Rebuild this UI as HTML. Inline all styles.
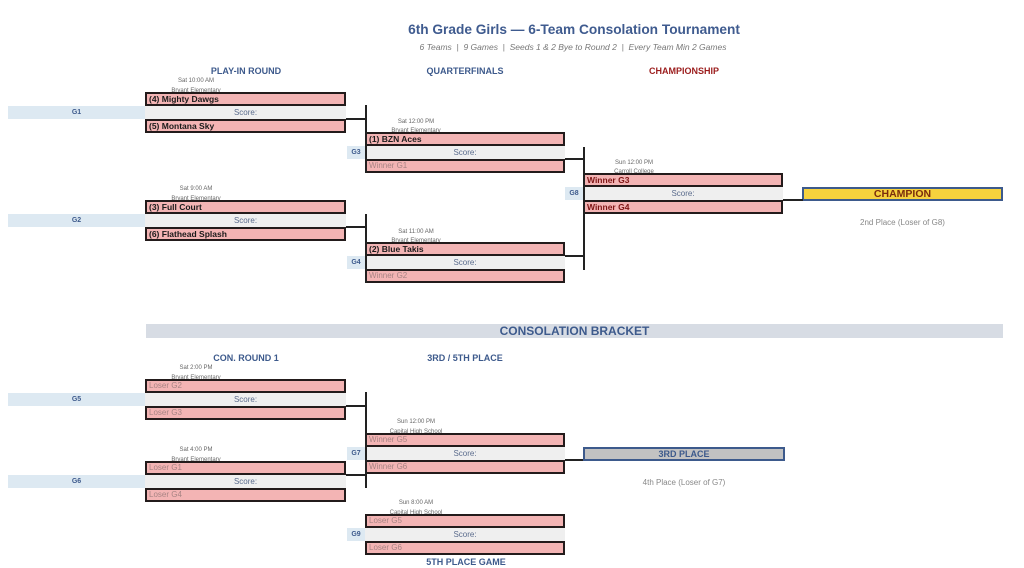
<!DOCTYPE html>
<html><head><meta charset="utf-8"><style>
*{margin:0;padding:0;box-sizing:border-box}
html,body{width:1024px;height:568px;background:#fff;overflow:hidden;position:relative;font-family:"Liberation Sans",Arial,sans-serif}
div{position:absolute}
.h{font-weight:bold;font-size:9px;color:#3d5a8c;text-align:center;width:200px;line-height:10px;white-space:nowrap}
.tb{height:14px;border:2px solid #231b1b;background:#f3b4b4;font-weight:bold;font-size:8.5px;line-height:10px;padding-left:2px;color:#1a1a1a;white-space:nowrap;overflow:hidden;z-index:2}
.ph{font-weight:normal;font-size:8px;color:#a88484}
.dr{color:#7e1414}
.sc{height:13px;background:#efefef;font-size:8px;color:#5a6b8c;text-align:center;line-height:13px;z-index:1}
.lb{height:13px;background:#dde9f2;font-size:7px;font-weight:bold;color:#3d5a8c;text-align:center;line-height:13px}
.sch{width:100px;text-align:center;font-size:6px;color:#666;line-height:8px;white-space:nowrap;z-index:0}
.ln{background:#222;z-index:3}
</style></head><body>

<!-- Title -->
<div style="left:0;width:1148px;top:21px;text-align:center;font-weight:bold;font-size:13.7px;color:#3f5b8f;line-height:18px;white-space:nowrap">6th Grade Girls — 6-Team Consolation Tournament</div>
<div style="left:0;width:1146px;top:42px;text-align:center;font-style:italic;font-size:8.5px;color:#777;line-height:10px;white-space:nowrap">6 Teams &nbsp;|&nbsp; 9 Games &nbsp;|&nbsp; Seeds 1 &amp; 2 Bye to Round 2 &nbsp;|&nbsp; Every Team Min 2 Games</div>

<!-- Round headers -->
<div class="h" style="left:146px;top:66px">PLAY-IN ROUND</div>
<div class="h" style="left:365px;top:66px">QUARTERFINALS</div>
<div class="h" style="left:584px;top:66px;color:#9b1c1c">CHAMPIONSHIP</div>

<!-- G1 -->
<div class="sch" style="left:146px;top:77px">Sat 10:00 AM</div>
<div class="sch" style="left:146px;top:86.5px">Bryant Elementary</div>
<div class="tb" style="left:145px;top:92px;width:201px">(4) Mighty Dawgs</div>
<div class="sc" style="left:145px;top:106px;width:201px">Score:</div>
<div class="tb" style="left:145px;top:119px;width:201px">(5) Montana Sky</div>
<div class="lb" style="left:8px;top:106px;width:137px">G1</div>

<!-- G2 -->
<div class="sch" style="left:146px;top:185px">Sat 9:00 AM</div>
<div class="sch" style="left:146px;top:194.5px">Bryant Elementary</div>
<div class="tb" style="left:145px;top:200px;width:201px">(3) Full Court</div>
<div class="sc" style="left:145px;top:214px;width:201px">Score:</div>
<div class="tb" style="left:145px;top:227px;width:201px">(6) Flathead Splash</div>
<div class="lb" style="left:8px;top:214px;width:137px">G2</div>

<!-- G3 -->
<div class="sch" style="left:366px;top:118px">Sat 12:00 PM</div>
<div class="sch" style="left:366px;top:126.5px">Bryant Elementary</div>
<div class="tb" style="left:365px;top:132px;width:200px">(1) BZN Aces</div>
<div class="sc" style="left:365px;top:146px;width:200px">Score:</div>
<div class="tb ph" style="left:365px;top:159px;width:200px">Winner G1</div>
<div class="lb" style="left:347px;top:146px;width:18px">G3</div>

<!-- G4 -->
<div class="sch" style="left:366px;top:228px">Sat 11:00 AM</div>
<div class="sch" style="left:366px;top:236.5px">Bryant Elementary</div>
<div class="tb" style="left:365px;top:242px;width:200px">(2) Blue Takis</div>
<div class="sc" style="left:365px;top:256px;width:200px">Score:</div>
<div class="tb ph" style="left:365px;top:269px;width:200px">Winner G2</div>
<div class="lb" style="left:347px;top:256px;width:18px">G4</div>

<!-- G8 -->
<div class="sch" style="left:584px;top:159px">Sun 12:00 PM</div>
<div class="sch" style="left:584px;top:167.5px">Carroll College</div>
<div class="tb dr" style="left:583px;top:173px;width:200px">Winner G3</div>
<div class="sc" style="left:583px;top:187px;width:200px">Score:</div>
<div class="tb dr" style="left:583px;top:200px;width:200px">Winner G4</div>
<div class="lb" style="left:565px;top:187px;width:18px">G8</div>

<!-- Champion -->
<div style="left:802px;top:187px;width:201px;height:14px;border:2px solid #3d5a8c;background:#f6d23d;text-align:center;font-weight:bold;font-size:10.5px;line-height:10px;color:#7b2d0c">CHAMPION</div>
<div style="left:802px;top:218px;width:201px;text-align:center;font-size:8px;color:#888;line-height:10px">2nd Place (Loser of G8)</div>

<!-- top connectors -->
<div class="ln" style="left:346px;top:118px;width:20px;height:2px"></div>
<div class="ln" style="left:365px;top:105px;width:2px;height:68px"></div>
<div class="ln" style="left:346px;top:226px;width:20px;height:2px"></div>
<div class="ln" style="left:365px;top:214px;width:2px;height:69px"></div>
<div class="ln" style="left:565px;top:158px;width:20px;height:2px"></div>
<div class="ln" style="left:565px;top:255px;width:20px;height:2px"></div>
<div class="ln" style="left:583px;top:147px;width:2px;height:123px"></div>
<div class="ln" style="left:783px;top:199px;width:20px;height:2px"></div>

<!-- Consolation header -->
<div style="left:146px;top:324px;width:857px;height:14px;background:#d7dce4;text-align:center;font-weight:bold;font-size:12px;color:#3d5a8c;line-height:14px">CONSOLATION BRACKET</div>
<div class="h" style="left:146px;top:353px">CON. ROUND 1</div>
<div class="h" style="left:365px;top:353px">3RD / 5TH PLACE</div>

<!-- G5 -->
<div class="sch" style="left:146px;top:364px">Sat 2:00 PM</div>
<div class="sch" style="left:146px;top:373.5px">Bryant Elementary</div>
<div class="tb ph" style="left:145px;top:379px;width:201px">Loser G2</div>
<div class="sc" style="left:145px;top:393px;width:201px">Score:</div>
<div class="tb ph" style="left:145px;top:406px;width:201px">Loser G3</div>
<div class="lb" style="left:8px;top:393px;width:137px">G5</div>

<!-- G6 -->
<div class="sch" style="left:146px;top:446px">Sat 4:00 PM</div>
<div class="sch" style="left:146px;top:455.5px">Bryant Elementary</div>
<div class="tb ph" style="left:145px;top:461px;width:201px">Loser G1</div>
<div class="sc" style="left:145px;top:475px;width:201px">Score:</div>
<div class="tb ph" style="left:145px;top:488px;width:201px">Loser G4</div>
<div class="lb" style="left:8px;top:475px;width:137px">G6</div>

<!-- G7 -->
<div class="sch" style="left:366px;top:418px">Sun 12:00 PM</div>
<div class="sch" style="left:366px;top:427.5px">Capital High School</div>
<div class="tb ph" style="left:365px;top:433px;width:200px">Winner G5</div>
<div class="sc" style="left:365px;top:447px;width:200px">Score:</div>
<div class="tb ph" style="left:365px;top:460px;width:200px">Winner G6</div>
<div class="lb" style="left:347px;top:447px;width:18px">G7</div>

<!-- 3rd place -->
<div style="left:583px;top:447px;width:202px;height:14px;border:2px solid #3d5a8c;background:#c2c2c2;text-align:center;font-weight:bold;font-size:9px;line-height:10px;color:#3d5a8c">3RD PLACE</div>
<div style="left:583px;top:478px;width:202px;text-align:center;font-size:8px;color:#888;line-height:10px">4th Place (Loser of G7)</div>

<!-- G9 -->
<div class="sch" style="left:366px;top:499px">Sun 8:00 AM</div>
<div class="sch" style="left:366px;top:508.5px">Capital High School</div>
<div class="tb ph" style="left:365px;top:514px;width:200px">Loser G5</div>
<div class="sc" style="left:365px;top:528px;width:200px">Score:</div>
<div class="tb ph" style="left:365px;top:541px;width:200px">Loser G6</div>
<div class="lb" style="left:347px;top:528px;width:18px">G9</div>
<div class="h" style="left:366px;top:557px">5TH PLACE GAME</div>

<!-- bottom connectors -->
<div class="ln" style="left:346px;top:405px;width:20px;height:2px"></div>
<div class="ln" style="left:346px;top:474px;width:20px;height:2px"></div>
<div class="ln" style="left:365px;top:392px;width:2px;height:96px"></div>
<div class="ln" style="left:565px;top:459px;width:18px;height:2px"></div>

</body></html>
